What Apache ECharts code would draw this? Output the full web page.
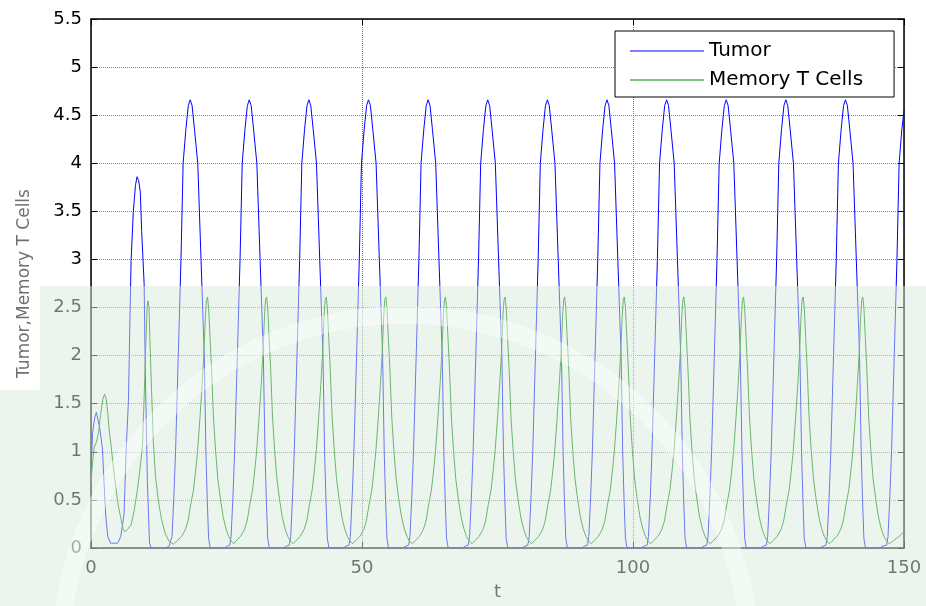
<!DOCTYPE html>
<html>
<head>
<meta charset="utf-8">
<script src="https://cdn.jsdelivr.net/npm/echarts@6/dist/echarts.min.js"></script>
<style>
html,body{margin:0;padding:0;background:#fff;}
#chart{width:926px;height:606px;}
</style>
</head>
<body>
<div id="chart"></div>
<script>
// ---- data ----
var xTicks = [0, 50, 100, 150];
var yTicks = [0, 0.5, 1, 1.5, 2, 2.5, 3, 3.5, 4, 4.5, 5, 5.5];
var seriesNames = ['Tumor', 'Memory T Cells'];

var tumorStart = [[0,0.8],[0.3,1.2],[0.7,1.36],[1.0,1.41],[1.3,1.4],[1.6,1.25],[2.1,1.04],[2.4,0.69],[2.7,0.35],[3.1,0.12],[3.6,0.05],[4.9,0.05],[5.5,0.12],[6.1,0.35],[6.5,1.04],[6.9,1.52],[7.2,2.42],[7.4,2.99],[7.8,3.49],[8.2,3.77],[8.5,3.86],[8.8,3.82],[9.1,3.7],[9.35,3.29],[9.8,2.75],[10.0,1.9],[10.4,0.69],[10.8,0.05],[11.1,0],[13.8,0],[14.4,0.02]];
var tumorMid1 = [[14.7,0.03],[14.95,0.12],[15.3,0.55],[15.6,1.0],[16.1,2.0],[16.6,3.0],[17.0,4.0],[17.5,4.35],[17.95,4.6],[18.3,4.66],[18.65,4.6],[19.1,4.35],[19.7,4.0],[20.3,3.0],[20.9,2.0],[21.2,1.0],[21.45,0.5],[21.7,0.1],[22.0,0],[24.6,0],[25.2,0.02],
[25.6,0.03],[25.85,0.12],[26.2,0.55],[26.5,1.0],[27.0,2.0],[27.5,3.0],[27.9,4.0],[28.4,4.35],[28.85,4.6],[29.2,4.66],[29.55,4.6],[30.0,4.35],[30.6,4.0],[31.2,3.0],[31.8,2.0],[32.1,1.0],[32.35,0.5],[32.6,0.1],[32.9,0],[35.5,0],[36.1,0.02],
[36.6,0.03],[36.85,0.12],[37.2,0.55],[37.5,1.0],[38.0,2.0],[38.5,3.0],[38.9,4.0],[39.4,4.35],[39.85,4.6],[40.2,4.66],[40.55,4.6],[41.0,4.35],[41.6,4.0],[42.2,3.0],[42.8,2.0],[43.1,1.0],[43.35,0.5],[43.6,0.1],[43.9,0],[46.5,0],[47.1,0.02],
[47.6,0.03],[47.85,0.12],[48.2,0.55],[48.5,1.0],[49.0,2.0],[49.5,3.0],[49.9,4.0],[50.4,4.35],[50.85,4.6],[51.2,4.66],[51.55,4.6],[52.0,4.35],[52.6,4.0],[53.2,3.0],[53.8,2.0],[54.1,1.0],[54.35,0.5],[54.6,0.1],[54.9,0],[57.5,0],[58.1,0.02],
[58.6,0.03],[58.85,0.12],[59.2,0.55],[59.5,1.0],[60.0,2.0],[60.5,3.0],[60.9,4.0],[61.4,4.35],[61.85,4.6],[62.2,4.66],[62.55,4.6],[63.0,4.35],[63.6,4.0],[64.2,3.0],[64.8,2.0],[65.1,1.0],[65.35,0.5],[65.6,0.1],[65.9,0],[68.5,0],[69.1,0.02],
[69.6,0.03],[69.85,0.12],[70.2,0.55],[70.5,1.0],[71.0,2.0],[71.5,3.0],[71.9,4.0],[72.4,4.35],[72.85,4.6],[73.2,4.66],[73.55,4.6],[74.0,4.35],[74.6,4.0],[75.2,3.0],[75.8,2.0],[76.1,1.0],[76.35,0.5],[76.6,0.1],[76.9,0],[79.5,0],[80.1,0.02]];
var tumorMid2 = [[80.6,0.03],[80.85,0.12],[81.2,0.55],[81.5,1.0],[82.0,2.0],[82.5,3.0],[82.9,4.0],[83.4,4.35],[83.85,4.6],[84.2,4.66],[84.55,4.6],[85.0,4.35],[85.6,4.0],[86.2,3.0],[86.8,2.0],[87.1,1.0],[87.35,0.5],[87.6,0.1],[87.9,0],[90.5,0],[91.1,0.02],
[91.6,0.03],[91.85,0.12],[92.2,0.55],[92.5,1.0],[93.0,2.0],[93.5,3.0],[93.9,4.0],[94.4,4.35],[94.85,4.6],[95.2,4.66],[95.55,4.6],[96.0,4.35],[96.6,4.0],[97.2,3.0],[97.8,2.0],[98.1,1.0],[98.35,0.5],[98.6,0.1],[98.9,0],[101.5,0],[102.1,0.02],
[102.6,0.03],[102.85,0.12],[103.2,0.55],[103.5,1.0],[104.0,2.0],[104.5,3.0],[104.9,4.0],[105.4,4.35],[105.85,4.6],[106.2,4.66],[106.55,4.6],[107.0,4.35],[107.6,4.0],[108.2,3.0],[108.8,2.0],[109.1,1.0],[109.35,0.5],[109.6,0.1],[109.9,0],[112.5,0],[113.1,0.02],
[113.6,0.03],[113.85,0.12],[114.2,0.55],[114.5,1.0],[115.0,2.0],[115.5,3.0],[115.9,4.0],[116.4,4.35],[116.85,4.6],[117.2,4.66],[117.55,4.6],[118.0,4.35],[118.6,4.0],[119.2,3.0],[119.8,2.0],[120.1,1.0],[120.35,0.5],[120.6,0.1],[120.9,0],[123.5,0],[124.1,0.02],
[124.6,0.03],[124.85,0.12],[125.2,0.55],[125.5,1.0],[126.0,2.0],[126.5,3.0],[126.9,4.0],[127.4,4.35],[127.85,4.6],[128.2,4.66],[128.55,4.6],[129.0,4.35],[129.6,4.0],[130.2,3.0],[130.8,2.0],[131.1,1.0],[131.35,0.5],[131.6,0.1],[131.9,0],[134.5,0],[135.1,0.02],
[135.6,0.03],[135.85,0.12],[136.2,0.55],[136.5,1.0],[137.0,2.0],[137.5,3.0],[137.9,4.0],[138.4,4.35],[138.85,4.6],[139.2,4.66],[139.55,4.6],[140.0,4.35],[140.6,4.0],[141.2,3.0],[141.8,2.0],[142.1,1.0],[142.35,0.5],[142.6,0.1],[142.9,0],[145.5,0],[146.1,0.02],
[146.8,0.03],[147.05,0.12],[147.4,0.55],[147.7,1.0],[148.2,2.0],[148.7,3.0],[149.1,4.0],[149.6,4.35],[150.0,4.55]];

var memoryStart = [[0,0.67],[0.3,0.9],[0.6,1.05],[1.0,1.1],[1.4,1.2],[1.8,1.4],[2.2,1.55],[2.5,1.6],[2.8,1.55],[3.1,1.4],[3.4,1.2],[3.7,1.07],[4.1,0.85],[4.6,0.62],[5.0,0.45],[5.5,0.31],[5.9,0.2],[6.2,0.17],[6.7,0.19],[7.4,0.24],[8.0,0.4],[8.6,0.62],[9.1,0.85],[9.5,1.07],[9.8,1.56],[10.1,2.1],[10.35,2.5],[10.5,2.57],[10.7,2.5],[10.9,2.1],[11.2,1.6],[11.5,1.1],[11.9,0.75],[12.4,0.5],[13.0,0.3],[13.7,0.15],[14.4,0.07],[15.2,0.04]];
var memoryMid1 = [[15.8,0.07],[16.7,0.12],[17.4,0.19],[17.9,0.28],[18.4,0.45],[18.9,0.6],[19.3,0.8],[19.65,1.0],[20.1,1.35],[20.5,1.7],[20.85,2.05],[21.1,2.4],[21.3,2.58],[21.5,2.61],[21.7,2.5],[21.95,2.2],[22.25,1.85],[22.6,1.35],[23.0,1.0],[23.4,0.72],[23.9,0.5],[24.4,0.32],[24.9,0.2],[25.4,0.12],[25.9,0.07],[26.4,0.045],
[26.7,0.07],[27.6,0.12],[28.3,0.19],[28.8,0.28],[29.3,0.45],[29.8,0.6],[30.2,0.8],[30.55,1.0],[31.0,1.35],[31.4,1.7],[31.75,2.05],[32.0,2.4],[32.2,2.58],[32.4,2.61],[32.6,2.5],[32.85,2.2],[33.15,1.85],[33.5,1.35],[33.9,1.0],[34.3,0.72],[34.8,0.5],[35.3,0.32],[35.8,0.2],[36.3,0.12],[36.8,0.07],[37.3,0.045],
[37.7,0.07],[38.6,0.12],[39.3,0.19],[39.8,0.28],[40.3,0.45],[40.8,0.6],[41.2,0.8],[41.55,1.0],[42.0,1.35],[42.4,1.7],[42.75,2.05],[43.0,2.4],[43.2,2.58],[43.4,2.61],[43.6,2.5],[43.85,2.2],[44.15,1.85],[44.5,1.35],[44.9,1.0],[45.3,0.72],[45.8,0.5],[46.3,0.32],[46.8,0.2],[47.3,0.12],[47.8,0.07],[48.3,0.045],
[48.7,0.07],[49.6,0.12],[50.3,0.19],[50.8,0.28],[51.3,0.45],[51.8,0.6],[52.2,0.8],[52.55,1.0],[53.0,1.35],[53.4,1.7],[53.75,2.05],[54.0,2.4],[54.2,2.58],[54.4,2.61],[54.6,2.5],[54.85,2.2],[55.15,1.85],[55.5,1.35],[55.9,1.0],[56.3,0.72],[56.8,0.5],[57.3,0.32],[57.8,0.2],[58.3,0.12],[58.8,0.07],[59.3,0.045],
[59.7,0.07],[60.6,0.12],[61.3,0.19],[61.8,0.28],[62.3,0.45],[62.8,0.6],[63.2,0.8],[63.55,1.0],[64.0,1.35],[64.4,1.7],[64.75,2.05],[65.0,2.4],[65.2,2.58],[65.4,2.61],[65.6,2.5],[65.85,2.2],[66.15,1.85],[66.5,1.35],[66.9,1.0],[67.3,0.72],[67.8,0.5],[68.3,0.32],[68.8,0.2],[69.3,0.12],[69.8,0.07],[70.3,0.045],
[70.7,0.07],[71.6,0.12],[72.3,0.19],[72.8,0.28],[73.3,0.45],[73.8,0.6],[74.2,0.8],[74.55,1.0],[75.0,1.35],[75.4,1.7],[75.75,2.05],[76.0,2.4],[76.2,2.58],[76.4,2.61],[76.6,2.5],[76.85,2.2],[77.15,1.85],[77.5,1.35],[77.9,1.0],[78.3,0.72],[78.8,0.5],[79.3,0.32],[79.8,0.2],[80.3,0.12],[80.8,0.07],[81.3,0.045]];
var memoryMid2 = [[81.7,0.07],[82.6,0.12],[83.3,0.19],[83.8,0.28],[84.3,0.45],[84.8,0.6],[85.2,0.8],[85.55,1.0],[86.0,1.35],[86.4,1.7],[86.75,2.05],[87.0,2.4],[87.2,2.58],[87.4,2.61],[87.6,2.5],[87.85,2.2],[88.15,1.85],[88.5,1.35],[88.9,1.0],[89.3,0.72],[89.8,0.5],[90.3,0.32],[90.8,0.2],[91.3,0.12],[91.8,0.07],[92.3,0.045],
[92.7,0.07],[93.6,0.12],[94.3,0.19],[94.8,0.28],[95.3,0.45],[95.8,0.6],[96.2,0.8],[96.55,1.0],[97.0,1.35],[97.4,1.7],[97.75,2.05],[98.0,2.4],[98.2,2.58],[98.4,2.61],[98.6,2.5],[98.85,2.2],[99.15,1.85],[99.5,1.35],[99.9,1.0],[100.3,0.72],[100.8,0.5],[101.3,0.32],[101.8,0.2],[102.3,0.12],[102.8,0.07],[103.3,0.045],
[103.7,0.07],[104.6,0.12],[105.3,0.19],[105.8,0.28],[106.3,0.45],[106.8,0.6],[107.2,0.8],[107.55,1.0],[108.0,1.35],[108.4,1.7],[108.75,2.05],[109.0,2.4],[109.2,2.58],[109.4,2.61],[109.6,2.5],[109.85,2.2],[110.15,1.85],[110.5,1.35],[110.9,1.0],[111.3,0.72],[111.8,0.5],[112.3,0.32],[112.8,0.2],[113.3,0.12],[113.8,0.07],[114.3,0.045],
[114.7,0.07],[115.6,0.12],[116.3,0.19],[116.8,0.28],[117.3,0.45],[117.8,0.6],[118.2,0.8],[118.55,1.0],[119.0,1.35],[119.4,1.7],[119.75,2.05],[120.0,2.4],[120.2,2.58],[120.4,2.61],[120.6,2.5],[120.85,2.2],[121.15,1.85],[121.5,1.35],[121.9,1.0],[122.3,0.72],[122.8,0.5],[123.3,0.32],[123.8,0.2],[124.3,0.12],[124.8,0.07],[125.3,0.045],
[125.7,0.07],[126.6,0.12],[127.3,0.19],[127.8,0.28],[128.3,0.45],[128.8,0.6],[129.2,0.8],[129.55,1.0],[130.0,1.35],[130.4,1.7],[130.75,2.05],[131.0,2.4],[131.2,2.58],[131.4,2.61],[131.6,2.5],[131.85,2.2],[132.15,1.85],[132.5,1.35],[132.9,1.0],[133.3,0.72],[133.8,0.5],[134.3,0.32],[134.8,0.2],[135.3,0.12],[135.8,0.07],[136.3,0.045],
[136.7,0.07],[137.6,0.12],[138.3,0.19],[138.8,0.28],[139.3,0.45],[139.8,0.6],[140.2,0.8],[140.55,1.0],[141.0,1.35],[141.4,1.7],[141.75,2.05],[142.0,2.4],[142.2,2.58],[142.4,2.61],[142.6,2.5],[142.85,2.2],[143.15,1.85],[143.5,1.35],[143.9,1.0],[144.3,0.72],[144.8,0.5],[145.3,0.32],[145.8,0.2],[146.3,0.12],[146.8,0.07],[147.3,0.045],
[147.7,0.06],[148.6,0.1],[149.3,0.13],[150.0,0.17]];

// ---- build ----
var tumor = tumorStart.concat(tumorMid1, tumorMid2);
var memory = memoryStart.concat(memoryMid1, memoryMid2);
var FONT = 'DejaVu Sans';

var chart = echarts.init(document.getElementById('chart'), null, {renderer: 'canvas'});
var baseX = {
  type: 'value', min: xTicks[0], max: xTicks[xTicks.length - 1], interval: 50,
  axisLine: {show: true, onZero: false, lineStyle: {color: '#000', width: 1.5}},
  axisTick: {show: true, inside: true, length: 6, lineStyle: {color: '#000'}}
};
var baseY = {
  type: 'value', min: yTicks[0], max: yTicks[yTicks.length - 1], interval: 0.5,
  axisLine: {show: true, onZero: false, lineStyle: {color: '#000', width: 1.5}},
  axisTick: {show: true, inside: true, length: 6, lineStyle: {color: '#000'}}
};
chart.setOption({
  animation: false,
  backgroundColor: '#fff',
  grid: {left: 91, right: 22, top: 19, bottom: 56, containLabel: false},
  xAxis: [
    Object.assign({}, baseX, {
      position: 'bottom',
      axisLabel: {show: true, fontSize: 18, fontFamily: FONT, color: '#000', margin: 11},
      splitLine: {show: true, lineStyle: {color: '#777', type: 'dotted', width: 1}},
      name: 't', nameLocation: 'middle', nameGap: 35,
      nameTextStyle: {fontSize: 18, fontFamily: FONT, color: '#000'}
    }),
    Object.assign({}, baseX, {
      position: 'top', axisLabel: {show: false}, splitLine: {show: false}
    })
  ],
  yAxis: [
    Object.assign({}, baseY, {
      position: 'left',
      axisLabel: {show: true, fontSize: 18, fontFamily: FONT, color: '#000', margin: 9},
      splitLine: {show: true, lineStyle: {color: '#888', type: 'dotted', width: 1}},
      name: 'Tumor,Memory T Cells', nameLocation: 'middle', nameGap: 58,
      nameTextStyle: {fontSize: 17, fontFamily: FONT, color: '#707070'}
    }),
    Object.assign({}, baseY, {
      position: 'right', axisLabel: {show: false}, splitLine: {show: false}
    })
  ],
  legend: {
    data: seriesNames,
    orient: 'vertical',
    left: 615, top: 31,
    backgroundColor: '#fff',
    borderColor: '#000', borderWidth: 1,
    padding: [10, 31, 7, 15],
    icon: 'rect',
    itemWidth: 74, itemHeight: 1.2, itemGap: 9,
    itemTextGap: 9,
    textStyle: {fontSize: 20, fontFamily: FONT, color: '#000', lineHeight: 20}
  },
  series: [
    {
      name: seriesNames[0], type: 'line', data: tumor,
      xAxisIndex: 0, yAxisIndex: 0,
      symbol: 'none', showSymbol: false, smooth: false,
      lineStyle: {color: '#0000ff', width: 1},
      itemStyle: {color: '#0000ff'}
    },
    {
      name: seriesNames[1], type: 'line', data: memory,
      xAxisIndex: 0, yAxisIndex: 0,
      symbol: 'none', showSymbol: false, smooth: false,
      lineStyle: {color: '#008000', width: 1},
      itemStyle: {color: '#008000'}
    }
  ],
  graphic: [
    {
      type: 'rect', z: 100, silent: true,
      shape: {x: 40, y: 286, width: 886, height: 320},
      style: {fill: 'rgba(215,235,222,0.5)'}
    },
    {
      type: 'rect', z: 100, silent: true,
      shape: {x: 0, y: 390, width: 40, height: 216},
      style: {fill: 'rgba(215,235,222,0.5)'}
    },
    {
      type: 'arc', z: 101, silent: true,
      shape: {cx: 405, cy: 660, r: 345, startAngle: Math.PI, endAngle: 2 * Math.PI},
      style: {stroke: 'rgba(255,255,255,0.4)', lineWidth: 18, fill: null}
    }
  ]
});
</script>
</body>
</html>
